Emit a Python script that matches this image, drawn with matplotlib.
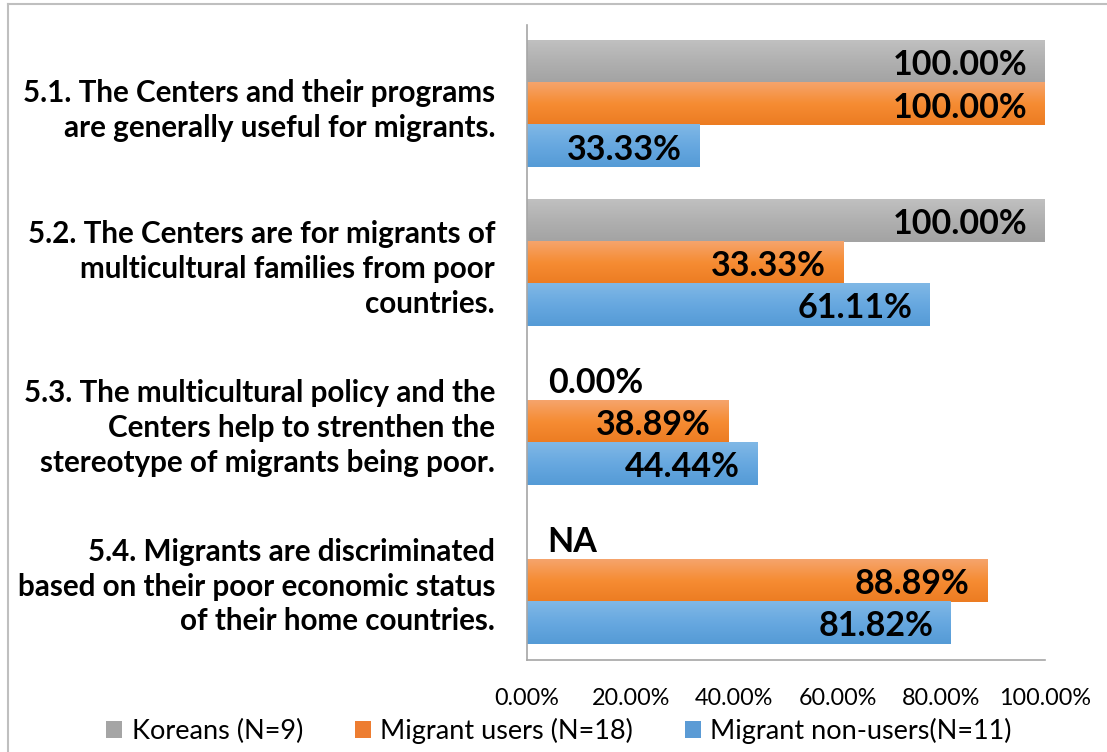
import numpy as np
import matplotlib.pyplot as plt
from matplotlib.colors import LinearSegmentedColormap
from matplotlib.lines import Line2D
from matplotlib.patches import Patch

# Dữ liệu
categories = [
    "5.1. The Centers and their programs\nare generally useful for migrants.",
    "5.2. The Centers are for migrants of\nmulticultural families from poor\ncountries.",
    "5.3. The multicultural policy and the\nCenters help to strenthen the\nstereotype of migrants being poor.",
    "5.4. Migrants are discriminated\nbased on their poor economic status\nof their home countries.",
]
series_names = ["Koreans (N=9)", "Migrant users (N=18)", "Migrant non-users(N=11)"]
# độ dài thanh (%) - nhóm 5.2 trong hình gốc có nhãn không khớp với độ dài thanh
koreans = [100.0, 100.0, 0.0, np.nan]
users = [100.0, 61.11, 38.89, 88.89]
non_users = [33.33, 77.78, 44.44, 81.82]
# nhãn hiển thị trên thanh
koreans_labels = ["100.00%", "100.00%", "0.00%", "NA"]
users_labels = ["100.00%", "33.33%", "38.89%", "88.89%"]
non_users_labels = ["33.33%", "61.11%", "44.44%", "81.82%"]
x_ticks = [0, 20, 40, 60, 80, 100]

FONT = ["Lato", "DejaVu Sans"]
plt.rcParams["font.family"] = FONT

fig = plt.figure(figsize=(11.07, 7.52), dpi=100)
ax = fig.add_axes([527 / 1107, 1 - 660 / 752, 518 / 1107, 635 / 752])

gradients = [
    ["#C0C0C0", "#B0B0B0", "#A3A3A3"],
    ["#F5A46C", "#F68C33", "#EC7C22"],
    ["#80B8E6", "#67A8E0", "#559BD6"],
]
solid = ["#A5A5A5", "#ED7D31", "#5B9BD5"]

n = len(categories)
h = 0.265
y_base = np.arange(n)[::-1].astype(float)
offsets = [h, 0.0, -h]
all_vals = [koreans, users, non_users]
all_labels = [koreans_labels, users_labels, non_users_labels]

grad_img = np.linspace(0, 1, 64).reshape(-1, 1)
for s in range(3):
    vals = np.nan_to_num(np.array(all_vals[s]))
    ys = y_base + offsets[s]
    bars = ax.barh(ys, vals, height=h, color=solid[s], linewidth=0)
    cmap = LinearSegmentedColormap.from_list("g%d" % s, gradients[s])
    for b in bars:
        x0, y0 = b.get_x(), b.get_y()
        w, hh = b.get_width(), b.get_height()
        if w <= 0:
            continue
        ax.imshow(grad_img, cmap=cmap, aspect="auto", origin="upper",
                  extent=(x0, x0 + w, y0, y0 + hh), interpolation="bilinear", zorder=2)
    for i, (v, lab) in enumerate(zip(vals, all_labels[s])):
        if v < 15:
            ax.text(4, ys[i] - 0.02, lab, ha="left", va="center", fontsize=24.5,
                    fontweight="bold", color="black", zorder=5)
        else:
            ax.text(v - 3.4, ys[i] - 0.02, lab, ha="right", va="center", fontsize=24.5,
                    fontweight="bold", color="black", zorder=5)

ax.set_xlim(0, 100)
ax.set_ylim(-0.5, n - 0.5)
ax.set_xticks(x_ticks)
ax.set_xticklabels(["%.2f%%" % t for t in x_ticks], fontsize=16.8)
ax.set_yticks(y_base)
ax.set_yticklabels(categories, fontsize=21.3, fontweight="bold", ha="right",
                   multialignment="right", linespacing=1.3)
ax.tick_params(axis="both", length=0)
ax.tick_params(axis="x", pad=20)
ax.tick_params(axis="y", pad=23)
for side in ["top", "right"]:
    ax.spines[side].set_visible(False)
for side in ["left", "bottom"]:
    ax.spines[side].set_color("#A6A6A6")
    ax.spines[side].set_linewidth(1.2)

handles = [Patch(facecolor=solid[s], edgecolor="none") for s in range(3)]
fig.legend(handles, series_names, loc="center", bbox_to_anchor=(0.505, 1 - 731 / 752),
           ncol=3, frameon=False, fontsize=19.5, handlelength=0.6, handleheight=0.6,
           handletextpad=0.35, columnspacing=1.9)

# khung viền xám của biểu đồ
fig.add_artist(Line2D([8 / 1107, 1], [1 - 4 / 752, 1 - 4 / 752], color="#BFBFBF", lw=1.5))
fig.add_artist(Line2D([8 / 1107, 8 / 1107], [0, 1 - 4 / 752], color="#BFBFBF", lw=1.5))

fig.savefig("out.png", dpi=100)
